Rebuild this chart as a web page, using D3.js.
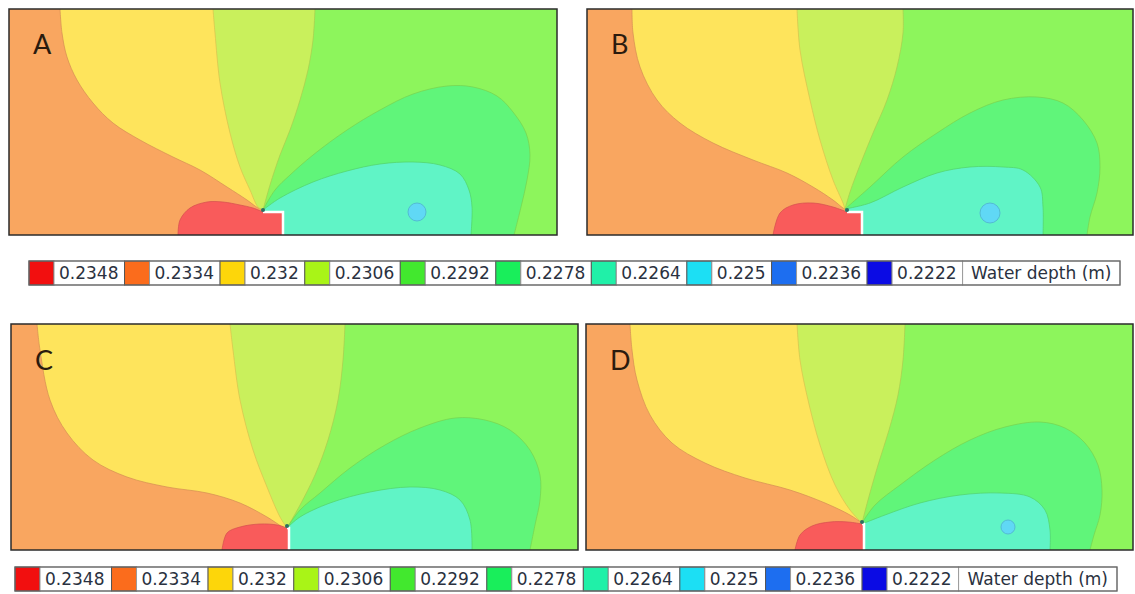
<!DOCTYPE html>
<html>
<head>
<meta charset="utf-8">
<script src="https://cdn.jsdelivr.net/npm/d3@7"></script>
<style>
  body { margin: 0; background: #fff; }
  svg { display: block; }
</style>
</head>
<body>
<div id="chart"></div>
<script>
// contour levels of water depth (m), legend order
const levels = ['0.2348', '0.2334', '0.232', '0.2306', '0.2292', '0.2278', '0.2264', '0.225', '0.2236', '0.2222'];
const legendTitle = 'Water depth (m)';
const legendColors = ['#f20f0f', '#fb6c1c', '#fdd60a', '#a9f417', '#42e82e', '#19ee5b', '#20f0a8', '#1cdff4', '#1d6ef0', '#0b0be4'];
// lighter fills used inside the plots (same order)
const fieldColors = ['#f95b5b', '#f9a660', '#fee45c', '#c9f05c', '#8df55c', '#60f57a', '#60f4c6', '#60d8f5', '#6fa0f5', '#5a5af0'];

const panelNames = ['A', 'B', 'C', 'D'];

// contour lines in grid units: x from the left end, y from the bottom wall
// one list per panel, A B C D
const edge2334 = [
    [[51,226],[53,202],[58,178],[68,155],[84,132],[104,112],[131,95],[164,78],[191,65],[218,48],[238,35],[249,27],[254,25]],
    [[45,226],[46,202],[53,168],[70,135],[93,112],[126,92],[166,75],[200,62],[226,48],[246,35],[256,27],[258,26]],
    [[26,226],[29,200],[39,150],[56,117],[82,90],[116,73],[156,63],[196,57],[229,47],[256,33],[272,23],[276,22]],
    [[44,226],[46,200],[51,170],[64,135],[86,107],[119,87],[159,72],[204,60],[239,47],[264,35],[276,27]]
];
const edge2320 = [
    [[204,226],[206,202],[211,152],[221,102],[231,68],[241,45],[249,28],[254,25]],
    [[210,226],[213,185],[223,135],[233,95],[246,55],[256,32],[258,26]],
    [[219,226],[222,200],[229,150],[242,100],[256,63],[269,33],[276,22]],
    [[211,226],[214,190],[222,150],[234,105],[249,65],[264,40],[276,27]]
];
const edge2306 = [
    [[306,226],[304,195],[299,165],[291,135],[281,105],[271,80],[261,50],[254,25]],
    [[316,226],[316,202],[310,168],[300,135],[286,102],[273,70],[263,43],[258,26]],
    [[334,226],[332,190],[327,150],[317,110],[304,75],[289,45],[276,22]],
    [[319,226],[317,190],[312,155],[303,120],[292,85],[282,50],[276,27]]
];
const edge2292 = [
    [[254,25],[266,45],[281,60],[304,80],[338,105],[371,125],[404,141],[438,149],[464,148],[488,139],[504,123],[517,102],[521,80],[518,55],[512,28],[505,0]],
    [[258,26],[283,48],[316,78],[350,102],[383,122],[416,135],[450,138],[476,132],[496,115],[510,92],[513,68],[510,42],[503,18],[500,0]],
    [[276,22],[289,40],[309,57],[339,82],[374,105],[409,122],[444,132],[474,130],[499,120],[519,100],[529,75],[529,50],[524,25],[519,0]],
    [[276,27],[289,45],[314,65],[349,90],[384,110],[419,123],[454,128],[479,122],[499,107],[512,85],[516,60],[514,35],[508,15],[504,0]]
];
const edge2278 = [
    [[254,25],[271,37],[304,53],[338,64],[371,71],[404,73],[431,70],[451,61],[460,45],[463,28],[462,0]],
    [[258,26],[283,32],[316,48],[350,62],[383,68],[416,68],[436,65],[453,48],[456,28],[456,0]],
    [[276,22],[289,33],[319,47],[359,58],[399,63],[429,60],[449,50],[459,30],[461,0]],
    [[276,26],[299,35],[334,47],[374,55],[414,57],[444,53],[459,40],[464,20],[464,0]]
];
const edge2348 = [
    [[169,0],[171,15],[181,27],[198,33],[214,33],[231,30],[244,27],[254,23]],
    [[186,0],[193,22],[206,30],[226,32],[246,28],[260,23]],
    [[211,0],[216,17],[229,23],[249,26],[266,25],[276,22]],
    [[209,0],[214,15],[226,24],[244,28],[262,28],[276,26]]
];
// small 0.2264 pocket: [x, y, radius]
const spot2264 = [[408,23,9], [403,22,10], null, [422,23,7]];
// spur dike outline
const spurLine = [
    [[254,23],[274,23],[274,0]],
    [[260,23],[275,23],[275,0]],
    [[276,22],[278,22],[278,0]],
    [[276,26],[278,26],[278,0]]
];

// page layout
const frames = [
    { x: 9,   y: 9,   w: 548, h: 226 },
    { x: 587, y: 9,   w: 546, h: 226 },
    { x: 11,  y: 324, w: 567, h: 226 },
    { x: 586, y: 324, w: 547, h: 226 }
];
const gridHeight = 226;

const svg = d3.select('#chart')
    .append('svg')
    .attr('width', 1135)
    .attr('height', 594);

const defs = svg.append('defs');

function drawPanel(i) {
    const f = frames[i];
    const x = d3.scaleLinear().domain([0, f.w]).range([f.x, f.x + f.w]);
    const y = d3.scaleLinear().domain([0, gridHeight]).range([f.y + f.h, f.y]);

    const line = d3.line()
        .x(d => x(d[0]))
        .y(d => y(d[1]))
        .curve(d3.curveCatmullRom.alpha(0.5));
    const region = (pts, tail) => line(pts) + tail.map(p => `L${x(p[0])},${y(p[1])}`).join('') + 'Z';

    defs.append('clipPath').attr('id', 'clip' + i)
        .append('rect')
        .attr('x', f.x).attr('y', f.y).attr('width', f.w).attr('height', f.h);

    const g = svg.append('g').attr('clip-path', `url(#clip${i})`);

    // base band 0.2292 - 0.2306
    g.append('rect')
        .attr('x', f.x).attr('y', f.y).attr('width', f.w).attr('height', f.h)
        .attr('fill', fieldColors[4]);

    // higher bands, to the left of the spur tip
    const leftTail = pts => [[pts[pts.length - 1][0], 0], [0, 0], [0, gridHeight]];
    [[edge2306[i], 3], [edge2320[i], 2], [edge2334[i], 1]].forEach(([pts, c]) => {
        g.append('path').attr('d', region(pts, leftTail(pts))).attr('fill', fieldColors[c]);
    });

    // lower bands, behind the spur
    [[edge2292[i], 5], [edge2278[i], 6]].forEach(([pts, c]) => {
        g.append('path').attr('d', region(pts, [[pts[0][0], 0]])).attr('fill', fieldColors[c]);
    });

    const spot = spot2264[i];
    if (spot) {
        g.append('circle')
            .attr('cx', x(spot[0])).attr('cy', y(spot[1]))
            .attr('r', x(spot[2]) - x(0))
            .attr('fill', fieldColors[7])
            .attr('stroke', d3.color(fieldColors[7]).darker(0.4))
            .attr('stroke-width', 1);
    }

    // red pocket upstream of the spur
    const spur = spurLine[i];
    g.append('path').attr('d', region(edge2348[i], spur.slice(1))).attr('fill', fieldColors[0]);

    // contour lines
    [[edge2334[i], 1], [edge2320[i], 2], [edge2306[i], 3], [edge2292[i], 4], [edge2278[i], 5], [edge2348[i], 0]]
        .forEach(([pts, c]) => {
            g.append('path')
                .attr('d', line(pts))
                .attr('fill', 'none')
                .attr('stroke', d3.color(fieldColors[c]).darker(0.45))
                .attr('stroke-opacity', 0.7)
                .attr('stroke-width', 1);
        });

    // spur dike
    g.append('path')
        .attr('d', d3.line().x(d => x(d[0])).y(d => y(d[1]))(spur))
        .attr('fill', 'none')
        .attr('stroke', '#ffffff')
        .attr('stroke-width', 2.5);
    g.append('circle')
        .attr('cx', x(spur[0][0])).attr('cy', y(spur[0][1]) - 2)
        .attr('r', 2)
        .attr('fill', '#2e6e62');

    // frame
    svg.append('rect')
        .attr('x', f.x).attr('y', f.y).attr('width', f.w).attr('height', f.h)
        .attr('fill', 'none')
        .attr('stroke', '#2b2b2b')
        .attr('stroke-width', 1.5);

    svg.append('text')
        .attr('x', f.x + 24)
        .attr('y', f.y + (i < 2 ? 45 : 46))
        .attr('font-family', 'Lato, "Open Sans", sans-serif')
        .attr('font-size', 27)
        .attr('fill', '#2b1b0e')
        .text(panelNames[i]);
}

function drawLegend(x0, y0, totalW, h) {
    const font = '"DejaVu Sans", Verdana, sans-serif';
    const g = svg.append('g');
    const probe = g.append('text').attr('font-family', font).attr('font-size', 17);
    const measure = s => { probe.text(s); return probe.node().getComputedTextLength(); };
    const textW = levels.map(measure);
    const titleW = measure(legendTitle);
    probe.remove();

    const swW = 25, padL = 5, padR = 3, titlePad = 7;
    const natural = d3.sum(textW, w => swW + padL + w + padR) + titleW + 2 * titlePad;
    const extra = (totalW - natural) / (levels.length + 1);

    let cx = x0;
    levels.forEach((lv, i) => {
        g.append('rect')
            .attr('x', cx).attr('y', y0).attr('width', swW).attr('height', h)
            .attr('fill', legendColors[i])
            .attr('stroke', '#555').attr('stroke-width', 1);
        cx += swW;
        const cw = padL + textW[i] + padR + extra;
        g.append('rect')
            .attr('x', cx).attr('y', y0).attr('width', cw).attr('height', h)
            .attr('fill', '#fff')
            .attr('stroke', '#9a9a9a').attr('stroke-width', 1);
        g.append('text')
            .attr('x', cx + padL)
            .attr('y', y0 + h / 2 + 6)
            .attr('font-family', font)
            .attr('font-size', 17)
            .attr('fill', '#2a3140')
            .text(lv);
        cx += cw;
    });
    const tw = x0 + totalW - cx;
    g.append('rect')
        .attr('x', cx).attr('y', y0).attr('width', tw).attr('height', h)
        .attr('fill', '#fff')
        .attr('stroke', '#9a9a9a').attr('stroke-width', 1);
    g.append('text')
        .attr('x', cx + tw / 2)
        .attr('y', y0 + h / 2 + 6)
        .attr('text-anchor', 'middle')
        .attr('font-family', font)
        .attr('font-size', 17)
        .attr('fill', '#2a3140')
        .text(legendTitle);

    g.append('rect')
        .attr('x', x0).attr('y', y0).attr('width', totalW).attr('height', h)
        .attr('fill', 'none')
        .attr('stroke', '#666').attr('stroke-width', 1.2);
}

frames.forEach((f, i) => drawPanel(i));
drawLegend(29, 261, 1091, 24);
drawLegend(15, 567, 1102, 24);
</script>
</body>
</html>
